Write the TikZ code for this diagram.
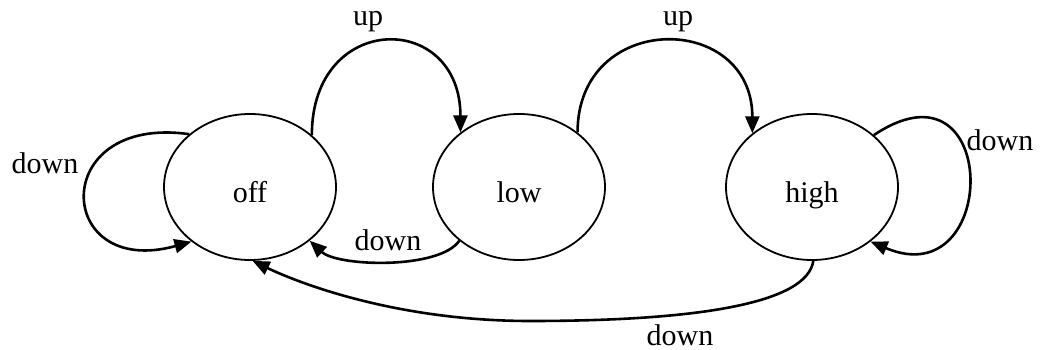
\documentclass[tikz,border=0pt]{standalone}
\usepackage{fontspec}
\setmainfont{Liberation Serif}
\usepackage{tikz}
\usetikzlibrary{
  arrows.meta,
  shapes.geometric
}

\begin{document}
\begin{tikzpicture}[
  x=0.5pt, y=0.5pt,
  state/.style={
    draw, ellipse, line width=0.9pt, inner sep=0pt,
    minimum width=86pt, minimum height=73pt,
    text height=15pt, text depth=0pt,
    font=\fontsize{15}{17}\selectfont
  },
  lbl/.style={font=\fontsize{15}{17}\selectfont, inner sep=0pt},
  arr/.style={-{Triangle[length=8.5pt, width=7pt]}, line width=1.3pt},
]
\useasboundingbox (0,0) rectangle (1041,349);

% The three states
\node[state] (off)  at (250,162) {off};
\node[state] (low)  at (519,162) {low};
\node[state] (high) at (812,162) {high};

% Transition labels
\node[lbl] (lblupa)   at (368,327) {up};
\node[lbl] (lblupb)   at (678,327) {up};
\node[lbl] (lbloff)   at (45,186)  {down};
\node[lbl] (lbllow)   at (388,109) {down};
\node[lbl] (lblhigh)  at (1000,209) {down};
\node[lbl] (lblback)  at (680,14)  {down};

% Going up
\draw[arr] (off.40)  .. controls +(0,124) and +(0,122) .. (low.137);
\draw[arr] (low.43)  .. controls +(0,122) and +(0,122) .. (high.138);

% Self loops
\draw[arr] (off.139) .. controls +(-142,20) and +(-137,-38) .. (off.223);
\draw[arr] (high.40) .. controls +(127,85) and +(130,-55) .. (high.317);

% Going down
\draw[arr] (low.222) .. controls +(-20,-29) and +(28,-26) .. (off.318);
\coordinate (dip) at (530,28);
\draw[arr] (high.271) .. controls +(-6,-42) and +(170,0) .. (dip)
                      .. controls +(-130,0) and +(50,-24) .. (off.272);

\end{tikzpicture}
\end{document}
